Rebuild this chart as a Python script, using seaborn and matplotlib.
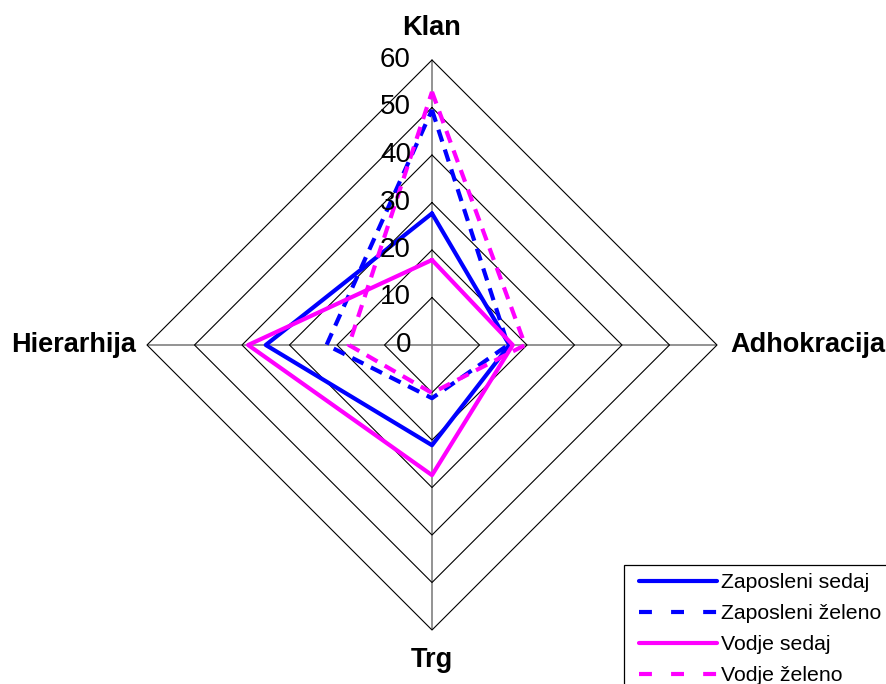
import numpy as np
import pandas as pd
import matplotlib
matplotlib.use("Agg")
import matplotlib.pyplot as plt
import matplotlib.transforms as mtransforms
from matplotlib.lines import Line2D
from matplotlib.patches import Rectangle
import seaborn as sns

categories = ["Klan", "Adhokracija", "Trg", "Hierarhija"]
series_names = ["Zaposleni sedaj", "Zaposleni želeno", "Vodje sedaj", "Vodje želeno"]
zaposleni_sedaj = [27.7, 16.3, 21.1, 35.0]
zaposleni_zeleno = [49.5, 16.0, 11.2, 22.2]
vodje_sedaj = [17.9, 17.0, 27.4, 38.7]
vodje_zeleno = [53.3, 19.6, 10.1, 17.5]
r_ticks = [0, 10, 20, 30, 40, 50, 60]

sns.set_theme(style="white")
plt.rcParams["font.family"] = ["Liberation Sans", "DejaVu Sans"]

values = [zaposleni_sedaj, zaposleni_zeleno, vodje_sedaj, vodje_zeleno]
n = len(categories)
angles = [2 * np.pi * i / n for i in range(n)]
angles_closed = angles + [2 * np.pi]

rows = []
for name, vals in zip(series_names, values):
    for ang, v in zip(angles_closed, vals + [vals[0]]):
        rows.append({"series": name, "theta": ang, "value": v})
df = pd.DataFrame(rows)

palette = {"Zaposleni sedaj": "#0000FF", "Zaposleni želeno": "#0000FF",
           "Vodje sedaj": "#FF00FF", "Vodje želeno": "#FF00FF"}
dashes = {"Zaposleni sedaj": "", "Zaposleni želeno": (3, 2),
          "Vodje sedaj": "", "Vodje želeno": (3, 2)}

fig = plt.figure(figsize=(8.87, 6.84), dpi=100)
ax = fig.add_axes([147 / 887, 54 / 684, 570 / 887, 570 / 684], projection="polar")
ax.set_theta_zero_location("N")
ax.set_theta_direction(-1)

# polygon grid
for r in r_ticks[1:]:
    ax.plot(angles_closed, [r] * (n + 1), color="black", lw=0.8, zorder=1, clip_on=False)

sns.lineplot(data=df, x="theta", y="value", hue="series", style="series",
             hue_order=series_names, style_order=series_names,
             palette=palette, dashes=dashes, linewidth=3, sort=False,
             estimator=None, legend=False, ax=ax, zorder=3)

ax.set_ylim(0, 60)
ax.set_yticks(r_ticks)
ax.set_yticklabels([])
ax.yaxis.grid(False)
ax.set_xticks(angles)
ax.set_xticklabels([])
ax.xaxis.grid(True, color="#808080", lw=1.2)
ax.spines["polar"].set_visible(False)
ax.set_xlabel("")
ax.set_ylabel("")

# radial labels
lab_tr = mtransforms.offset_copy(ax.transData, fig=fig, x=-21, y=0, units="dots")
for r in r_ticks:
    ax.text(0, r, str(r), transform=lab_tr, ha="right", va="center", fontsize=20, color="black")

# category labels
offsets = [(0, 32, "center", "center"), (13, 0, "left", "center"),
           (0, -30, "center", "center"), (-11, 0, "right", "center")]
for cat, ang, (dx, dy, ha, va) in zip(categories, angles, offsets):
    tr = mtransforms.offset_copy(ax.transData, fig=fig, x=dx, y=dy, units="dots")
    ax.text(ang, 60, cat, transform=tr, ha=ha, va=va, fontsize=19.5,
            fontweight="bold", color="black")

# legend (frame drawn separately, it runs off the figure edge like the reference)
handles = []
for name in series_names:
    if dashes[name] == "":
        h = Line2D([], [], color=palette[name], lw=3, solid_capstyle="round")
    else:
        h = Line2D([], [], color=palette[name], lw=3, dashes=(3.1, 4.6))
    handles.append(h)

leg = ax.legend(handles, series_names, loc="upper left",
                bbox_to_anchor=(639 / 887, 1 - 573 / 684), bbox_transform=fig.transFigure,
                frameon=False, fontsize=15.3, handlelength=3.67, handletextpad=0.18,
                borderpad=0, labelspacing=0.57, borderaxespad=0)
for t in leg.get_texts():
    t.set_color("black")

rect = Rectangle((624 / 887, -0.2), 0.5, (1 - 565 / 684) + 0.2, transform=fig.transFigure,
                 fill=False, edgecolor="black", lw=0.9, clip_on=False)
fig.add_artist(rect)

fig.savefig("out.png", dpi=100)
